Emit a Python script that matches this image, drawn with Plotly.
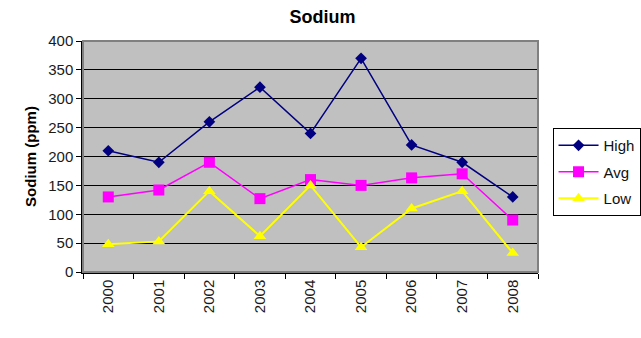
import plotly.graph_objects as go

years = ["2000", "2001", "2002", "2003", "2004", "2005", "2006", "2007", "2008"]
high = [210, 190, 260, 320, 240, 370, 220, 190, 130]
avg = [130, 142, 190, 127, 160, 150, 163, 170, 90]
low = [48, 53, 140, 62, 150, 43, 110, 140, 33]
y_ticks = [0, 50, 100, 150, 200, 250, 300, 350, 400]

FONT = "Arial, Liberation Sans, sans-serif"

fig = go.Figure()
fig.add_trace(go.Scatter(
    x=years, y=high, name="High", mode="lines+markers", legendgroup="h",
    line=dict(color="#000080", width=1.5),
    marker=dict(symbol="diamond", size=9, color="#000080"),
))
fig.add_trace(go.Scatter(
    x=years, y=avg, name="Avg", mode="lines+markers", legendgroup="a",
    line=dict(color="#FF00FF", width=1.5),
    marker=dict(symbol="square", size=11, color="#FF00FF"),
))
fig.add_trace(go.Scatter(
    x=years, y=low, name="Low", mode="lines+markers", legendgroup="l",
    line=dict(color="#FFFF00", width=2),
    marker=dict(symbol="triangle-up", size=11, color="#FFFF00"),
))

# grey frame around the plot area
fig.add_shape(type="rect", xref="x domain", yref="y domain",
              x0=0, x1=1, y0=0, y1=1,
              line=dict(color="#808080", width=2), layer="above")

fig.update_layout(
    width=641, height=338,
    margin=dict(l=83, r=103, t=41, b=66, autoexpand=False),
    paper_bgcolor="white",
    plot_bgcolor="#C0C0C0",
    font=dict(family=FONT, size=15, color="#1a1a1a"),
    title=dict(text="<b>Sodium</b>", x=0.503, xanchor="center",
               y=0.952, yanchor="middle",
               font=dict(family=FONT, size=18, color="#000000")),
    showlegend=True,
    legend=dict(xref="container", yref="container",
                x=0.862, xanchor="left", y=0.621, yanchor="top",
                bgcolor="white", bordercolor="#000000", borderwidth=1,
                font=dict(family=FONT, size=15, color="#111111"),
                itemwidth=40, traceorder="grouped", tracegroupgap=4),
    xaxis=dict(
        type="category", range=[-0.5, 8.5],
        tickangle=-90, tickson="boundaries",
        ticks="outside", ticklen=5, tickcolor="#000000",
        showgrid=False, showline=True, linecolor="#000000", linewidth=1.5,
        tickfont=dict(family=FONT, size=15, color="#1a1a1a"),
        zeroline=False,
    ),
    yaxis=dict(
        range=[0, 400], tickvals=y_ticks,
        ticks="outside", ticklen=5, tickcolor="#000000",
        showgrid=True, gridcolor="#000000", gridwidth=1,
        showline=True, linecolor="#000000", linewidth=1.5,
        zeroline=False,
        tickfont=dict(family=FONT, size=15, color="#1a1a1a"),
        title=dict(text="<b>Sodium (ppm)</b>", standoff=8,
                   font=dict(family=FONT, size=15, color="#000000")),
    ),
)

fig.write_html("out.html")
